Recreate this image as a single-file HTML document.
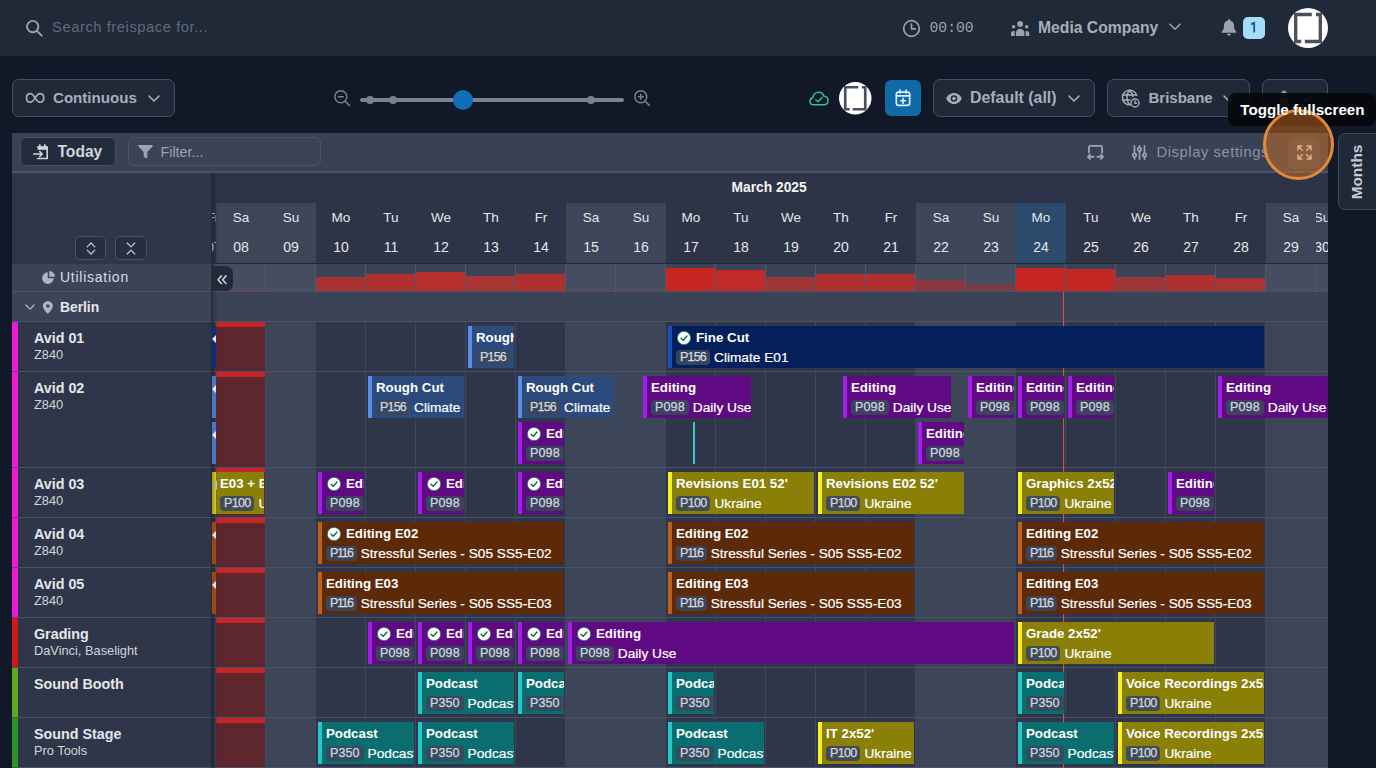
<!DOCTYPE html><html><head><meta charset="utf-8"><title>Schedule</title><style>
*{box-sizing:border-box;margin:0;padding:0}
html,body{width:1376px;height:768px;overflow:hidden;background:#111827}
body{font-family:"Liberation Sans",sans-serif;color:#fff;position:relative}
.abs{position:absolute}
.t{position:absolute;white-space:nowrap;line-height:1}
.b{font-weight:bold}
.btn{position:absolute;border:1px solid #465064;background:#1f2937;border-radius:7px}
svg{position:absolute;overflow:visible}
/* events */
.ev{position:absolute;height:42px;overflow:hidden;border-left:4px solid;white-space:nowrap}
.ev .l1{position:absolute;left:4px;top:4px;height:16px;font-weight:bold;font-size:13.3px;line-height:16px;color:#fff}
.ev .l2{position:absolute;left:4px;top:24px;height:16px;font-size:13.7px;line-height:16px;color:#fff;-webkit-text-stroke:.2px #fff}
.ev .cd{display:inline-block;vertical-align:top;height:15px;line-height:15px;margin-top:0px;padding:0 4px;border-radius:4px;background:rgba(60,72,92,.92);color:#d3d8e0;font-size:12.5px;margin-right:4px;-webkit-text-stroke:.25px #d3d8e0}
.ev .ck{display:inline-block;vertical-align:top;width:14px;height:14px;margin:1px 5px 0 1px;position:relative}
.navy{background:#04205c;border-color:#1553c0}
.steel{background:#2c4a7c;border-color:#5b8de6}
.purple{background:#5f0a82;border-color:#a31ee8}
.olive{background:#8a8008;border-color:#f5f020}
.brown{background:#5c2a08;border-color:#c0601a}
.teal{background:#0a6e70;border-color:#22c8c8}
.rn{position:absolute;left:34px;font-weight:bold;font-size:14.3px;color:#e5e7eb;white-space:nowrap;line-height:1}
.rs{position:absolute;left:34px;font-size:12.8px;color:#d1d5db;white-space:nowrap;line-height:1}
.dn{position:absolute;width:50px;text-align:center;font-size:13.5px;color:#e5e7eb;line-height:1;top:210px}
.dd{position:absolute;width:50px;text-align:center;font-size:14px;color:#e5e7eb;line-height:1;top:240px}
</style></head><body>
<div class="abs" style="left:0;top:0;width:1376px;height:56px;background:#1f2937"></div>
<svg style="left:24px;top:17px" width="22" height="22" viewBox="0 0 22 22" fill="none" stroke="#9ca3af" stroke-width="1.900" stroke-linecap="round"><circle cx="8.700" cy="9.600" r="5.700"/><path d="M12.900 13.800 L17.700 18.700"/></svg>
<div class="t" style="left:52px;top:20px;font-size:14.800px;letter-spacing:.530px;color:#5f6b7d">Search freispace for...</div>
<svg style="left:901.700px;top:18.700px" width="19" height="19" viewBox="0 0 19 19" fill="none" stroke="#9ca3af" stroke-width="1.700" stroke-linecap="round" stroke-linejoin="round"><circle cx="9.5" cy="9.5" r="7.8"/><path d="M9.5 5 V9.8 H13.4"/></svg>
<div class="t" style="left:929.5px;top:21.300px;font-family:'Liberation Mono',monospace;font-size:14.7px;color:#9ca3af">00:00</div>
<svg style="left:1011px;top:20.700px" width="18.300" height="15.100" viewBox="0 0 18.3 15.1" fill="#9ca3af"><circle cx="9.150" cy="3" r="2.900"/><circle cx="2.600" cy="5.700" r="1.800"/><circle cx="15.700" cy="5.700" r="1.800"/><path d="M4.900 15.100 V12.100 a4.250 4.250 0 0 1 8.500 0 V15.100 Z"/><path d="M0 15.100 V12.500 a2.500 2.500 0 0 1 2.500-2.500 h1.200 v5.100z"/><path d="M18.300 15.100 V12.500 a2.500 2.500 0 0 0-2.500-2.500 h-1.200 v5.100z"/></svg>
<div class="t b" style="left:1038px;top:19.5px;font-size:15.7px;color:#a7aebb">Media Company</div>
<svg style="left:1169px;top:23px" width="12" height="8" viewBox="0 0 12 8" fill="none" stroke="#9ca3af" stroke-width="1.6" stroke-linecap="round" stroke-linejoin="round"><path d="M1 1.2 L6 6.2 L11 1.200"/></svg>
<svg style="left:1221px;top:19px" width="16" height="18" viewBox="0 0 16 18" fill="#9ca3af"><path d="M8 0.300 c.7 0 1.200.5 1.200 1.100 c2.400.6 3.800 2.600 3.800 5.100 c0 3.300.8 4.700 2.300 6.200 c.4.400.1 1-.4 1 H1.100 c-.5 0-.8-.6-.4-1 C2.200 11.200 3 9.800 3 6.500 c0-2.500 1.400-4.500 3.800-5.100 C6.800.8 7.300.300 8 .300z"/><path d="M6 14.800 h4 c0 1.200-.9 2-2 2 s-2-.8-2-2z"/></svg>
<div class="abs" style="left:1242.5px;top:17px;width:22px;height:22px;border-radius:5px;background:#a5dcf8"></div>
<svg style="left:1250px;top:21px" width="7" height="13" viewBox="0 0 7 13" fill="none" stroke="#0b5c8c" stroke-width="1.800" stroke-linejoin="round"><path d="M1.300 3.600 L4.200 1.600 V11.600"/></svg>
<svg style="left:1288.0px;top:7.699999999999999px" width="40" height="40" viewBox="0 0 40 40"><circle cx="20" cy="20" r="20" fill="#fff"/><g fill="none" stroke="#4b5060" stroke-width="3.3"><path d="M23.800 6.500 H7.700 V33.500 H13.200"/><path d="M28 6.500 H32.300 V33.500 H16.800"/></g></svg>
<div class="btn" style="left:12px;top:79px;width:163px;height:38px"></div>
<svg style="left:24.800px;top:92px" width="20.300" height="11.800" viewBox="0 0 21 13" fill="none" stroke="#a7aebb" stroke-width="1.900"><path d="M10.500 6.500 C8.700 3.500 7.200 1.800 5.200 1.800 C2.600 1.800 1 3.900 1 6.500 S2.600 11.200 5.200 11.200 C7.200 11.200 8.700 9.500 10.500 6.500 C12.300 3.500 13.800 1.800 15.800 1.800 C18.400 1.800 20 3.900 20 6.500 S18.400 11.200 15.800 11.200 C13.800 11.200 12.300 9.500 10.500 6.500Z"/></svg>
<div class="t b" style="left:53px;top:89.5px;font-size:15.1px;color:#a7aebb">Continuous</div>
<svg style="left:148px;top:94.500px" width="12" height="8" viewBox="0 0 12 8" fill="none" stroke="#a7aebb" stroke-width="1.6" stroke-linecap="round" stroke-linejoin="round"><path d="M1 1 L6 6 L11 1"/></svg>
<svg style="left:333px;top:89px" width="18" height="18" viewBox="0 0 18 18" fill="none" stroke="#7a8290" stroke-width="1.5" stroke-linecap="round"><circle cx="7.800" cy="7.800" r="6"/><path d="M5.300 7.800 H10.300 M12.200 12.300 L16.300 16.400"/></svg>
<div class="abs" style="left:360px;top:98px;width:264px;height:4px;border-radius:2px;background:#7a8290"></div>
<div class="abs" style="left:365.7px;top:96px;width:8px;height:8px;border-radius:4px;background:#7a8290"></div>
<div class="abs" style="left:389px;top:96px;width:8px;height:8px;border-radius:4px;background:#7a8290"></div>
<div class="abs" style="left:586.8px;top:96px;width:8px;height:8px;border-radius:4px;background:#7a8290"></div>
<div class="abs" style="left:453px;top:90px;width:20px;height:20px;border-radius:10px;background:#0f6fb6"></div>
<svg style="left:633px;top:89px" width="18" height="18" viewBox="0 0 18 18" fill="none" stroke="#7a8290" stroke-width="1.5" stroke-linecap="round"><circle cx="7.800" cy="7.800" r="6"/><path d="M5.300 7.800 H10.300 M7.800 5.300 V10.300 M12.200 12.300 L16.300 16.400"/></svg>
<svg style="left:809px;top:90.5px" width="20" height="15" viewBox="0 0 20 15" fill="none" stroke="#34c58c" stroke-width="1.5" stroke-linecap="round" stroke-linejoin="round"><path d="M5 13.800 C2.600 13.800 1 12.200 1 10.200 C1 8.400 2.200 7 3.900 6.700 C4.100 3.700 6.400 1.200 9.600 1.200 C12.300 1.200 14.300 2.900 15 5.300 C17.300 5.500 19 7.200 19 9.500 C19 12 17.200 13.800 14.800 13.800 Z"/><path d="M6.800 8.700 L9 10.800 L13 6.600"/></svg>
<svg style="left:838.75px;top:81.75px" width="32.5" height="32.5" viewBox="0 0 40 40"><circle cx="20" cy="20" r="20" fill="#fff"/><g fill="none" stroke="#4b5060" stroke-width="3.3"><path d="M23.800 6.500 H7.700 V33.500 H13.200"/><path d="M28 6.500 H32.300 V33.500 H16.800"/></g></svg>
<div class="abs" style="left:885px;top:80px;width:36px;height:36px;border-radius:6px;background:#0f6aa6"></div>
<svg style="left:895px;top:89.200px" width="16" height="17.800" viewBox="0 0 18 20" fill="none" stroke="#d8f0ff" stroke-width="1.900" stroke-linecap="round" stroke-linejoin="round"><rect x="1.500" y="3.500" width="15" height="15" rx="2.500"/><path d="M1.500 7.800 H16.500 M5.500 1.200 V4.500 M12.500 1.200 V4.500 M9 10.500 V16 M6.300 13.200 H11.700"/></svg>
<div class="btn" style="left:933px;top:79px;width:162px;height:38px"></div>
<svg style="left:946px;top:91.5px" width="16" height="13" viewBox="0 0 16 13" ><path d="M8 1 C4.400 1 1.600 3.300 .3 6.500 C1.600 9.700 4.400 12 8 12 S14.400 9.700 15.700 6.500 C14.400 3.300 11.600 1 8 1 Z" fill="#a7aebb"/><circle cx="8" cy="6.500" r="3.300" fill="#1f2937"/><circle cx="8" cy="6.500" r="1.800" fill="#a7aebb"/></svg>
<div class="t b" style="left:970px;top:90px;font-size:15.9px;color:#a7aebb">Default (all)</div>
<svg style="left:1068px;top:94.500px" width="12" height="8" viewBox="0 0 12 8" fill="none" stroke="#a7aebb" stroke-width="1.6" stroke-linecap="round" stroke-linejoin="round"><path d="M1 1 L6 6 L11 1"/></svg>
<div class="btn" style="left:1107px;top:79px;width:143px;height:38px"></div>
<svg style="left:1121px;top:89px" width="19" height="19" viewBox="0 0 19 19" fill="none" stroke="#a7aebb" stroke-width="1.400" stroke-linecap="round"><path d="M9.500 15.800 A7.300 7.300 0 1 1 15.700 6.400"/><path d="M8.500 1.300 C5.200 4.500 5.200 11.500 8.200 15.500 M8.500 1.300 C10.500 3 11.500 5 11.800 7.500 M1.500 6 H15 M1.500 11 H9"/><circle cx="14" cy="14" r="4" /><path d="M14 12 V14.200 H15.600"/></svg>
<div class="t b" style="left:1148.5px;top:89.5px;font-size:15px;color:#a7aebb">Brisbane</div>
<svg style="left:1223px;top:94.500px" width="12" height="8" viewBox="0 0 12 8" fill="none" stroke="#a7aebb" stroke-width="1.6" stroke-linecap="round" stroke-linejoin="round"><path d="M1 1 L6 6 L11 1"/></svg>
<div class="btn" style="left:1262px;top:79px;width:66px;height:38px"></div>
<svg style="left:1276px;top:89px" width="16" height="18" viewBox="0 0 16 18" fill="#8d95a3"><circle cx="8" cy="4" r="2.600"/><path d="M3 17 v-4 c0-2.500 2-4.200 5-4.200 s5 1.700 5 4.200 v4 z"/></svg>
<svg style="left:1301px;top:94.500px" width="12" height="8" viewBox="0 0 12 8" fill="none" stroke="#a7aebb" stroke-width="1.6" stroke-linecap="round" stroke-linejoin="round"><path d="M1 1 L6 6 L11 1"/></svg>
<div class="abs" style="left:12px;top:133px;width:1316px;height:40px;background:#394254;border-bottom:2px solid #4a5467"></div>
<div class="abs" style="left:20px;top:137px;width:96px;height:29px;border-radius:6px;background:#232c3c;border:1px solid #465064"></div>
<svg style="left:33px;top:143.500px" width="16" height="16" viewBox="0 0 16 16" fill="none" stroke="#d1d5db" stroke-width="1.600" stroke-linecap="round" stroke-linejoin="round"><path d="M4.600 3 H14.200 V14.500 H4.600"/><path d="M4.600 2.600 H14.600 V5.800 H4.600Z" fill="#d1d5db" stroke="none"/><path d="M6.800 .8 V3 M11.800 .8 V3 M.8 10 H9 M6.700 7.500 L9.200 10 L6.700 12.500"/></svg>
<div class="t b" style="left:57.500px;top:144px;font-size:15.6px;color:#d1d5db">Today</div>
<div class="abs" style="left:127.500px;top:137px;width:193.500px;height:29px;border-radius:6px;background:#3b4456;border:1px solid #4b5568"></div>
<svg style="left:138px;top:145px" width="15" height="14" viewBox="0 0 15 14" fill="#9ca3af"><path d="M.8 0 H14.200 C14.900 0 15.200.8 14.700 1.300 L9.300 7 V12.500 C9.300 13.200 8.600 13.600 8 13.200 L6.200 11.900 C5.900 11.700 5.700 11.400 5.700 11 V7 L.3 1.300 C-.2.800.1 0 .8 0Z"/></svg>
<div class="t" style="left:160.500px;top:145px;font-size:14.3px;color:#9ca3af">Filter...</div>
<svg style="left:1086.500px;top:143.700px" width="17" height="17" viewBox="0 0 18 18" fill="none" stroke="#9ca3af" stroke-width="1.900" stroke-linecap="round" stroke-linejoin="round"><path d="M2 9 V3.500 C2 2.700 2.700 2 3.500 2 H14.500 C15.300 2 16 2.700 16 3.500 V9"/><path d="M1 13.500 H7 M3.200 11.300 L1 13.500 L3.200 15.700 M17 13.500 H11 M14.800 11.300 L17 13.500 L14.800 15.700"/></svg>
<svg style="left:1131.500px;top:144.500px" width="15" height="15" viewBox="0 0 15 15" fill="none" stroke="#9ca3af" stroke-width="1.700" stroke-linecap="round"><path d="M2.500 .9 V8 M2.500 12.200 V14.100 M7.500 .9 V2.200 M7.500 6.400 V14.100 M12.500 .9 V8 M12.500 12.200 V14.100"/><circle cx="2.500" cy="10.100" r="1.700"/><circle cx="7.500" cy="4.300" r="1.700"/><circle cx="12.500" cy="10.100" r="1.700"/></svg>
<div class="t" style="left:1156.500px;top:144.500px;font-size:14.800px;letter-spacing:.548px;color:#8b93a3">Display settings</div>
<div class="abs" style="left:212px;top:173px;width:1116px;height:91px;background:#2e3447"></div>
<div class="abs" style="left:212px;top:264px;width:1116px;height:504px;background:#2f3649"></div>
<div class="abs" style="left:212px;top:173px;width:1116px;height:595px;overflow:hidden">
<div class="abs" style="left:4px;top:30px;width:50px;height:60px;background:#3d4558;"></div>
<div class="abs" style="left:54px;top:30px;width:50px;height:60px;background:#3d4558;"></div>
<div class="abs" style="left:354px;top:30px;width:50px;height:60px;background:#3d4558;"></div>
<div class="abs" style="left:404px;top:30px;width:50px;height:60px;background:#3d4558;"></div>
<div class="abs" style="left:704px;top:30px;width:50px;height:60px;background:#3d4558;"></div>
<div class="abs" style="left:754px;top:30px;width:50px;height:60px;background:#3d4558;"></div>
<div class="abs" style="left:804px;top:30px;width:50px;height:60px;background:#2b4a6c;"></div>
<div class="abs" style="left:1054px;top:30px;width:50px;height:60px;background:#3d4558;"></div>
<div class="abs" style="left:1104px;top:30px;width:50px;height:60px;background:#3d4558;"></div>
<div class="abs" style="left:0px;top:91px;width:1116px;height:58px;background:#3b4356;"></div>
<div class="abs" style="left:4px;top:91px;width:50px;height:28px;background:#454d60;"></div>
<div class="abs" style="left:54px;top:91px;width:50px;height:28px;background:#454d60;"></div>
<div class="abs" style="left:354px;top:91px;width:50px;height:28px;background:#454d60;"></div>
<div class="abs" style="left:404px;top:91px;width:50px;height:28px;background:#454d60;"></div>
<div class="abs" style="left:704px;top:91px;width:50px;height:28px;background:#454d60;"></div>
<div class="abs" style="left:754px;top:91px;width:50px;height:28px;background:#454d60;"></div>
<div class="abs" style="left:1054px;top:91px;width:50px;height:28px;background:#454d60;"></div>
<div class="abs" style="left:1104px;top:91px;width:50px;height:28px;background:#454d60;"></div>
<div class="abs" style="left:4px;top:149px;width:50px;height:446px;background:#3d4558;"></div>
<div class="abs" style="left:54px;top:149px;width:50px;height:446px;background:#3d4558;"></div>
<div class="abs" style="left:354px;top:149px;width:50px;height:446px;background:#3d4558;"></div>
<div class="abs" style="left:404px;top:149px;width:50px;height:446px;background:#3d4558;"></div>
<div class="abs" style="left:704px;top:149px;width:50px;height:446px;background:#3d4558;"></div>
<div class="abs" style="left:754px;top:149px;width:50px;height:446px;background:#3d4558;"></div>
<div class="abs" style="left:1054px;top:149px;width:50px;height:446px;background:#3d4558;"></div>
<div class="abs" style="left:1104px;top:149px;width:50px;height:446px;background:#3d4558;"></div>
<div class="abs" style="left:0px;top:90px;width:1116px;height:1px;background:#222838;"></div>
<div class="abs" style="left:0px;top:118px;width:1116px;height:1px;background:#4a5366;"></div>
<div class="abs" style="left:0px;top:148px;width:1116px;height:1px;background:#4a5366;"></div>
<div class="abs" style="left:0px;top:198px;width:1116px;height:1px;background:#4a5366;"></div>
<div class="abs" style="left:0px;top:294px;width:1116px;height:1px;background:#4a5366;"></div>
<div class="abs" style="left:0px;top:344px;width:1116px;height:1px;background:#4a5366;"></div>
<div class="abs" style="left:0px;top:394px;width:1116px;height:1px;background:#4a5366;"></div>
<div class="abs" style="left:0px;top:444px;width:1116px;height:1px;background:#4a5366;"></div>
<div class="abs" style="left:0px;top:494px;width:1116px;height:1px;background:#4a5366;"></div>
<div class="abs" style="left:0px;top:544px;width:1116px;height:1px;background:#4a5366;"></div>
<div class="abs" style="left:0px;top:594px;width:1116px;height:1px;background:#4a5366;"></div>
<div class="abs" style="left:3px;top:91px;width:1px;height:28px;background:#50586a;"></div>
<div class="abs" style="left:3px;top:149px;width:1px;height:446px;background:#3f475a;"></div>
<div class="abs" style="left:53px;top:91px;width:1px;height:28px;background:#50586a;"></div>
<div class="abs" style="left:53px;top:149px;width:1px;height:446px;background:#3f475a;"></div>
<div class="abs" style="left:103px;top:91px;width:1px;height:28px;background:#50586a;"></div>
<div class="abs" style="left:103px;top:149px;width:1px;height:446px;background:#3f475a;"></div>
<div class="abs" style="left:153px;top:91px;width:1px;height:28px;background:#50586a;"></div>
<div class="abs" style="left:153px;top:149px;width:1px;height:446px;background:#3f475a;"></div>
<div class="abs" style="left:203px;top:91px;width:1px;height:28px;background:#50586a;"></div>
<div class="abs" style="left:203px;top:149px;width:1px;height:446px;background:#3f475a;"></div>
<div class="abs" style="left:253px;top:91px;width:1px;height:28px;background:#50586a;"></div>
<div class="abs" style="left:253px;top:149px;width:1px;height:446px;background:#3f475a;"></div>
<div class="abs" style="left:303px;top:91px;width:1px;height:28px;background:#50586a;"></div>
<div class="abs" style="left:303px;top:149px;width:1px;height:446px;background:#3f475a;"></div>
<div class="abs" style="left:353px;top:91px;width:1px;height:28px;background:#50586a;"></div>
<div class="abs" style="left:353px;top:149px;width:1px;height:446px;background:#3f475a;"></div>
<div class="abs" style="left:403px;top:91px;width:1px;height:28px;background:#50586a;"></div>
<div class="abs" style="left:403px;top:149px;width:1px;height:446px;background:#3f475a;"></div>
<div class="abs" style="left:453px;top:91px;width:1px;height:28px;background:#50586a;"></div>
<div class="abs" style="left:453px;top:149px;width:1px;height:446px;background:#3f475a;"></div>
<div class="abs" style="left:503px;top:91px;width:1px;height:28px;background:#50586a;"></div>
<div class="abs" style="left:503px;top:149px;width:1px;height:446px;background:#3f475a;"></div>
<div class="abs" style="left:553px;top:91px;width:1px;height:28px;background:#50586a;"></div>
<div class="abs" style="left:553px;top:149px;width:1px;height:446px;background:#3f475a;"></div>
<div class="abs" style="left:603px;top:91px;width:1px;height:28px;background:#50586a;"></div>
<div class="abs" style="left:603px;top:149px;width:1px;height:446px;background:#3f475a;"></div>
<div class="abs" style="left:653px;top:91px;width:1px;height:28px;background:#50586a;"></div>
<div class="abs" style="left:653px;top:149px;width:1px;height:446px;background:#3f475a;"></div>
<div class="abs" style="left:703px;top:91px;width:1px;height:28px;background:#50586a;"></div>
<div class="abs" style="left:703px;top:149px;width:1px;height:446px;background:#3f475a;"></div>
<div class="abs" style="left:753px;top:91px;width:1px;height:28px;background:#50586a;"></div>
<div class="abs" style="left:753px;top:149px;width:1px;height:446px;background:#3f475a;"></div>
<div class="abs" style="left:803px;top:91px;width:1px;height:28px;background:#50586a;"></div>
<div class="abs" style="left:803px;top:149px;width:1px;height:446px;background:#3f475a;"></div>
<div class="abs" style="left:853px;top:91px;width:1px;height:28px;background:#50586a;"></div>
<div class="abs" style="left:853px;top:149px;width:1px;height:446px;background:#3f475a;"></div>
<div class="abs" style="left:903px;top:91px;width:1px;height:28px;background:#50586a;"></div>
<div class="abs" style="left:903px;top:149px;width:1px;height:446px;background:#3f475a;"></div>
<div class="abs" style="left:953px;top:91px;width:1px;height:28px;background:#50586a;"></div>
<div class="abs" style="left:953px;top:149px;width:1px;height:446px;background:#3f475a;"></div>
<div class="abs" style="left:1003px;top:91px;width:1px;height:28px;background:#50586a;"></div>
<div class="abs" style="left:1003px;top:149px;width:1px;height:446px;background:#3f475a;"></div>
<div class="abs" style="left:1053px;top:91px;width:1px;height:28px;background:#50586a;"></div>
<div class="abs" style="left:1053px;top:149px;width:1px;height:446px;background:#3f475a;"></div>
<div class="abs" style="left:1103px;top:91px;width:1px;height:28px;background:#50586a;"></div>
<div class="abs" style="left:1103px;top:149px;width:1px;height:446px;background:#3f475a;"></div>
<div class="abs" style="left:4px;top:116.5px;width:49px;height:1.5px;background:#7a3a44;"></div>
<div class="abs" style="left:104px;top:103.5px;width:49px;height:14.5px;background:#a83234;"></div>
<div class="abs" style="left:154px;top:100.5px;width:49px;height:17.5px;background:#b03030;"></div>
<div class="abs" style="left:204px;top:98.5px;width:49px;height:19.5px;background:#b82e2c;"></div>
<div class="abs" style="left:254px;top:102.5px;width:49px;height:15.5px;background:#a83434;"></div>
<div class="abs" style="left:304px;top:101px;width:49px;height:17px;background:#b03030;"></div>
<div class="abs" style="left:354px;top:117px;width:49px;height:1px;background:#6a3e4a;"></div>
<div class="abs" style="left:404px;top:117px;width:49px;height:1px;background:#6a3e4a;"></div>
<div class="abs" style="left:454px;top:95px;width:49px;height:23px;background:#c82622;"></div>
<div class="abs" style="left:504px;top:97px;width:49px;height:21px;background:#c02a28;"></div>
<div class="abs" style="left:554px;top:104px;width:49px;height:14px;background:#a03436;"></div>
<div class="abs" style="left:604px;top:101px;width:49px;height:17px;background:#b03030;"></div>
<div class="abs" style="left:654px;top:101px;width:49px;height:17px;background:#b03030;"></div>
<div class="abs" style="left:704px;top:107px;width:49px;height:11px;background:#8a3840;"></div>
<div class="abs" style="left:754px;top:110.5px;width:49px;height:7.5px;background:#7a3a44;"></div>
<div class="abs" style="left:804px;top:95px;width:49px;height:23px;background:#c82622;"></div>
<div class="abs" style="left:854px;top:96px;width:49px;height:22px;background:#c42824;"></div>
<div class="abs" style="left:904px;top:103.5px;width:49px;height:14.5px;background:#a03436;"></div>
<div class="abs" style="left:954px;top:101.5px;width:49px;height:16.5px;background:#b03030;"></div>
<div class="abs" style="left:1004px;top:105px;width:49px;height:13px;background:#a83436;"></div>
<div class="abs" style="left:4px;top:149px;width:49px;height:49px;background:#5e272d;"></div>
<div class="abs" style="left:4px;top:149px;width:49px;height:4.5px;background:#c4262a;"></div>
<div class="abs" style="left:4px;top:199px;width:49px;height:95px;background:#5e272d;"></div>
<div class="abs" style="left:4px;top:199px;width:49px;height:4.5px;background:#c4262a;"></div>
<div class="abs" style="left:4px;top:295px;width:49px;height:49px;background:#5e272d;"></div>
<div class="abs" style="left:4px;top:295px;width:49px;height:4.5px;background:#c4262a;"></div>
<div class="abs" style="left:4px;top:345px;width:49px;height:49px;background:#5e272d;"></div>
<div class="abs" style="left:4px;top:345px;width:49px;height:4.5px;background:#c4262a;"></div>
<div class="abs" style="left:4px;top:395px;width:49px;height:49px;background:#5e272d;"></div>
<div class="abs" style="left:4px;top:395px;width:49px;height:4.5px;background:#c4262a;"></div>
<div class="abs" style="left:4px;top:445px;width:49px;height:49px;background:#5e272d;"></div>
<div class="abs" style="left:4px;top:445px;width:49px;height:4.5px;background:#c4262a;"></div>
<div class="abs" style="left:4px;top:495px;width:49px;height:49px;background:#5e272d;"></div>
<div class="abs" style="left:4px;top:495px;width:49px;height:4.5px;background:#c4262a;"></div>
<div class="abs" style="left:4px;top:545px;width:49px;height:49px;background:#5e272d;"></div>
<div class="abs" style="left:4px;top:545px;width:49px;height:4.5px;background:#c4262a;"></div>
<div class="dn" style="left:4px;top:37.5px">Sa</div><div class="dd" style="left:4px;top:66.5px">08</div>
<div class="dn" style="left:54px;top:37.5px">Su</div><div class="dd" style="left:54px;top:66.5px">09</div>
<div class="dn" style="left:104px;top:37.5px">Mo</div><div class="dd" style="left:104px;top:66.5px">10</div>
<div class="dn" style="left:154px;top:37.5px">Tu</div><div class="dd" style="left:154px;top:66.5px">11</div>
<div class="dn" style="left:204px;top:37.5px">We</div><div class="dd" style="left:204px;top:66.5px">12</div>
<div class="dn" style="left:254px;top:37.5px">Th</div><div class="dd" style="left:254px;top:66.5px">13</div>
<div class="dn" style="left:304px;top:37.5px">Fr</div><div class="dd" style="left:304px;top:66.5px">14</div>
<div class="dn" style="left:354px;top:37.5px">Sa</div><div class="dd" style="left:354px;top:66.5px">15</div>
<div class="dn" style="left:404px;top:37.5px">Su</div><div class="dd" style="left:404px;top:66.5px">16</div>
<div class="dn" style="left:454px;top:37.5px">Mo</div><div class="dd" style="left:454px;top:66.5px">17</div>
<div class="dn" style="left:504px;top:37.5px">Tu</div><div class="dd" style="left:504px;top:66.5px">18</div>
<div class="dn" style="left:554px;top:37.5px">We</div><div class="dd" style="left:554px;top:66.5px">19</div>
<div class="dn" style="left:604px;top:37.5px">Th</div><div class="dd" style="left:604px;top:66.5px">20</div>
<div class="dn" style="left:654px;top:37.5px">Fr</div><div class="dd" style="left:654px;top:66.5px">21</div>
<div class="dn" style="left:704px;top:37.5px">Sa</div><div class="dd" style="left:704px;top:66.5px">22</div>
<div class="dn" style="left:754px;top:37.5px">Su</div><div class="dd" style="left:754px;top:66.5px">23</div>
<div class="dn" style="left:804px;top:37.5px">Mo</div><div class="dd" style="left:804px;top:66.5px">24</div>
<div class="dn" style="left:854px;top:37.5px">Tu</div><div class="dd" style="left:854px;top:66.5px">25</div>
<div class="dn" style="left:904px;top:37.5px">We</div><div class="dd" style="left:904px;top:66.5px">26</div>
<div class="dn" style="left:954px;top:37.5px">Th</div><div class="dd" style="left:954px;top:66.5px">27</div>
<div class="dn" style="left:1004px;top:37.5px">Fr</div><div class="dd" style="left:1004px;top:66.5px">28</div>
<div class="dn" style="left:1054px;top:37.5px">Sa</div><div class="dd" style="left:1054px;top:66.5px">29</div>
<div class="abs" style="left:0px;top:30px;width:4px;height:60px;overflow:hidden"><div class="dn" style="left:-24px;top:7.5px">Fr</div><div class="dd" style="left:-23px;top:36.5px">07</div></div>
<div class="abs" style="left:1104px;top:30px;width:12px;height:60px;overflow:hidden"><div class="dn" style="left:-19px;top:7.5px">Su</div><div class="dd" style="left:-19px;top:36.5px">30</div></div>
<div class="t b" style="left:519.5px;top:7.5px;font-size:13.800px;color:#f3f4f6">March 2025</div>
<div class="abs" style="left:851px;top:119px;width:1px;height:476px;background:#d9513a;"></div>
<div class="ev steel" style="left:256px;top:153px;width:46px"><div class="l1">Rough Cut</div><div class="l2"><span class="cd" style="letter-spacing:-0.8px">P156</span>Climate E01</div></div>
<div class="ev navy" style="left:456px;top:153px;width:596px"><div class="l1"><span class="ck"><svg style="left:0;top:0" width="14" height="14" viewBox="0 0 14 14"><circle cx="7" cy="7" r="6.600" fill="#fff" stroke="#1f8a6a" stroke-width=".8"/><path d="M4 7.300 L6.200 9.400 L10 5" fill="none" stroke="#0c5a46" stroke-width="1.300" stroke-linecap="round" stroke-linejoin="round"/></svg></span>Fine Cut</div><div class="l2"><span class="cd" style="letter-spacing:-0.8px">P156</span>Climate E01</div></div>
<div class="ev steel" style="left:156px;top:203px;width:96px"><div class="l1">Rough Cut</div><div class="l2"><span class="cd" style="letter-spacing:-0.8px">P156</span>Climate E01</div></div>
<div class="ev steel" style="left:306px;top:203px;width:96px"><div class="l1">Rough Cut</div><div class="l2"><span class="cd" style="letter-spacing:-0.8px">P156</span>Climate E01</div></div>
<div class="ev purple" style="left:431px;top:203px;width:108px"><div class="l1">Editing</div><div class="l2"><span class="cd" style="letter-spacing:0.15px">P098</span>Daily Use</div></div>
<div class="ev purple" style="left:631px;top:203px;width:108px"><div class="l1">Editing</div><div class="l2"><span class="cd" style="letter-spacing:0.15px">P098</span>Daily Use</div></div>
<div class="ev purple" style="left:756px;top:203px;width:46px"><div class="l1">Editing</div><div class="l2"><span class="cd" style="letter-spacing:0.15px">P098</span>Daily Use</div></div>
<div class="ev purple" style="left:806px;top:203px;width:46px"><div class="l1">Editing</div><div class="l2"><span class="cd" style="letter-spacing:0.15px">P098</span>Daily Use</div></div>
<div class="ev purple" style="left:856px;top:203px;width:46px"><div class="l1">Editing</div><div class="l2"><span class="cd" style="letter-spacing:0.15px">P098</span>Daily Use</div></div>
<div class="ev purple" style="left:1006px;top:203px;width:122px"><div class="l1">Editing</div><div class="l2"><span class="cd" style="letter-spacing:0.15px">P098</span>Daily Use</div></div>
<div class="ev purple" style="left:306px;top:249px;width:46px"><div class="l1"><span class="ck"><svg style="left:0;top:0" width="14" height="14" viewBox="0 0 14 14"><circle cx="7" cy="7" r="6.600" fill="#fff" stroke="#1f8a6a" stroke-width=".8"/><path d="M4 7.300 L6.200 9.400 L10 5" fill="none" stroke="#0c5a46" stroke-width="1.300" stroke-linecap="round" stroke-linejoin="round"/></svg></span>Editing</div><div class="l2"><span class="cd" style="letter-spacing:0.15px">P098</span>Daily Use</div></div>
<div class="ev purple" style="left:706px;top:249px;width:46px"><div class="l1">Editing</div><div class="l2"><span class="cd" style="letter-spacing:0.15px">P098</span>Daily Use</div></div>
<div class="abs" style="left:481px;top:249px;width:2px;height:42px;background:#3cc4d4;"></div>
<div class="ev olive" style="left:0px;top:299px;width:52px"><div class="l1" style="left:4px">E03 + E04</div><div class="l2" style="left:4px"><span class="cd" style="letter-spacing:-0.7px">P100</span>Ukraine</div></div>
<svg style="left:0px;top:307px" width="5" height="10" viewBox="0 0 5 10"><path d="M5 0 L0 5 L5 10Z" fill="#d8d4a0"/></svg>
<div class="ev purple" style="left:106px;top:299px;width:46px"><div class="l1"><span class="ck"><svg style="left:0;top:0" width="14" height="14" viewBox="0 0 14 14"><circle cx="7" cy="7" r="6.600" fill="#fff" stroke="#1f8a6a" stroke-width=".8"/><path d="M4 7.300 L6.200 9.400 L10 5" fill="none" stroke="#0c5a46" stroke-width="1.300" stroke-linecap="round" stroke-linejoin="round"/></svg></span>Editing</div><div class="l2"><span class="cd" style="letter-spacing:0.15px">P098</span>Daily Use</div></div>
<div class="ev purple" style="left:206px;top:299px;width:46px"><div class="l1"><span class="ck"><svg style="left:0;top:0" width="14" height="14" viewBox="0 0 14 14"><circle cx="7" cy="7" r="6.600" fill="#fff" stroke="#1f8a6a" stroke-width=".8"/><path d="M4 7.300 L6.200 9.400 L10 5" fill="none" stroke="#0c5a46" stroke-width="1.300" stroke-linecap="round" stroke-linejoin="round"/></svg></span>Editing</div><div class="l2"><span class="cd" style="letter-spacing:0.15px">P098</span>Daily Use</div></div>
<div class="ev purple" style="left:306px;top:299px;width:46px"><div class="l1"><span class="ck"><svg style="left:0;top:0" width="14" height="14" viewBox="0 0 14 14"><circle cx="7" cy="7" r="6.600" fill="#fff" stroke="#1f8a6a" stroke-width=".8"/><path d="M4 7.300 L6.200 9.400 L10 5" fill="none" stroke="#0c5a46" stroke-width="1.300" stroke-linecap="round" stroke-linejoin="round"/></svg></span>Editing</div><div class="l2"><span class="cd" style="letter-spacing:0.15px">P098</span>Daily Use</div></div>
<div class="ev olive" style="left:456px;top:299px;width:146px"><div class="l1">Revisions E01 52'</div><div class="l2"><span class="cd" style="letter-spacing:-0.7px">P100</span>Ukraine</div></div>
<div class="ev olive" style="left:606px;top:299px;width:146px"><div class="l1">Revisions E02 52'</div><div class="l2"><span class="cd" style="letter-spacing:-0.7px">P100</span>Ukraine</div></div>
<div class="ev olive" style="left:806px;top:299px;width:96px"><div class="l1">Graphics 2x52'</div><div class="l2"><span class="cd" style="letter-spacing:-0.7px">P100</span>Ukraine</div></div>
<div class="ev purple" style="left:956px;top:299px;width:46px"><div class="l1">Editing</div><div class="l2"><span class="cd" style="letter-spacing:0.15px">P098</span>Daily Use</div></div>
<div class="ev brown" style="left:106px;top:349px;width:246px"><div class="l1"><span class="ck"><svg style="left:0;top:0" width="14" height="14" viewBox="0 0 14 14"><circle cx="7" cy="7" r="6.600" fill="#fff" stroke="#1f8a6a" stroke-width=".8"/><path d="M4 7.300 L6.200 9.400 L10 5" fill="none" stroke="#0c5a46" stroke-width="1.300" stroke-linecap="round" stroke-linejoin="round"/></svg></span>Editing E02</div><div class="l2"><span class="cd" style="letter-spacing:-1.4px">P116</span>Stressful Series - S05 SS5-E02</div></div>
<div class="ev brown" style="left:456px;top:349px;width:246px"><div class="l1">Editing E02</div><div class="l2"><span class="cd" style="letter-spacing:-1.4px">P116</span>Stressful Series - S05 SS5-E02</div></div>
<div class="ev brown" style="left:806px;top:349px;width:246px"><div class="l1">Editing E02</div><div class="l2"><span class="cd" style="letter-spacing:-1.4px">P116</span>Stressful Series - S05 SS5-E02</div></div>
<div class="ev brown" style="left:106px;top:399px;width:246px"><div class="l1">Editing E03</div><div class="l2"><span class="cd" style="letter-spacing:-1.4px">P116</span>Stressful Series - S05 SS5-E03</div></div>
<div class="ev brown" style="left:456px;top:399px;width:246px"><div class="l1">Editing E03</div><div class="l2"><span class="cd" style="letter-spacing:-1.4px">P116</span>Stressful Series - S05 SS5-E03</div></div>
<div class="ev brown" style="left:806px;top:399px;width:246px"><div class="l1">Editing E03</div><div class="l2"><span class="cd" style="letter-spacing:-1.4px">P116</span>Stressful Series - S05 SS5-E03</div></div>
<div class="ev purple" style="left:156px;top:449px;width:46px"><div class="l1"><span class="ck"><svg style="left:0;top:0" width="14" height="14" viewBox="0 0 14 14"><circle cx="7" cy="7" r="6.600" fill="#fff" stroke="#1f8a6a" stroke-width=".8"/><path d="M4 7.300 L6.200 9.400 L10 5" fill="none" stroke="#0c5a46" stroke-width="1.300" stroke-linecap="round" stroke-linejoin="round"/></svg></span>Editing</div><div class="l2"><span class="cd" style="letter-spacing:0.15px">P098</span>Daily Use</div></div>
<div class="ev purple" style="left:206px;top:449px;width:46px"><div class="l1"><span class="ck"><svg style="left:0;top:0" width="14" height="14" viewBox="0 0 14 14"><circle cx="7" cy="7" r="6.600" fill="#fff" stroke="#1f8a6a" stroke-width=".8"/><path d="M4 7.300 L6.200 9.400 L10 5" fill="none" stroke="#0c5a46" stroke-width="1.300" stroke-linecap="round" stroke-linejoin="round"/></svg></span>Editing</div><div class="l2"><span class="cd" style="letter-spacing:0.15px">P098</span>Daily Use</div></div>
<div class="ev purple" style="left:256px;top:449px;width:46px"><div class="l1"><span class="ck"><svg style="left:0;top:0" width="14" height="14" viewBox="0 0 14 14"><circle cx="7" cy="7" r="6.600" fill="#fff" stroke="#1f8a6a" stroke-width=".8"/><path d="M4 7.300 L6.200 9.400 L10 5" fill="none" stroke="#0c5a46" stroke-width="1.300" stroke-linecap="round" stroke-linejoin="round"/></svg></span>Editing</div><div class="l2"><span class="cd" style="letter-spacing:0.15px">P098</span>Daily Use</div></div>
<div class="ev purple" style="left:306px;top:449px;width:46px"><div class="l1"><span class="ck"><svg style="left:0;top:0" width="14" height="14" viewBox="0 0 14 14"><circle cx="7" cy="7" r="6.600" fill="#fff" stroke="#1f8a6a" stroke-width=".8"/><path d="M4 7.300 L6.200 9.400 L10 5" fill="none" stroke="#0c5a46" stroke-width="1.300" stroke-linecap="round" stroke-linejoin="round"/></svg></span>Editing</div><div class="l2"><span class="cd" style="letter-spacing:0.15px">P098</span>Daily Use</div></div>
<div class="ev purple" style="left:356px;top:449px;width:446px"><div class="l1"><span class="ck"><svg style="left:0;top:0" width="14" height="14" viewBox="0 0 14 14"><circle cx="7" cy="7" r="6.600" fill="#fff" stroke="#1f8a6a" stroke-width=".8"/><path d="M4 7.300 L6.200 9.400 L10 5" fill="none" stroke="#0c5a46" stroke-width="1.300" stroke-linecap="round" stroke-linejoin="round"/></svg></span>Editing</div><div class="l2"><span class="cd" style="letter-spacing:0.15px">P098</span>Daily Use</div></div>
<div class="ev olive" style="left:806px;top:449px;width:196px"><div class="l1">Grade 2x52'</div><div class="l2"><span class="cd" style="letter-spacing:-0.7px">P100</span>Ukraine</div></div>
<div class="ev teal" style="left:206px;top:499px;width:96px"><div class="l1">Podcast</div><div class="l2"><span class="cd" style="letter-spacing:0.1px">P350</span>Podcast</div></div>
<div class="ev teal" style="left:306px;top:499px;width:46px"><div class="l1">Podcast</div><div class="l2"><span class="cd" style="letter-spacing:0.1px">P350</span>Podcast</div></div>
<div class="ev teal" style="left:456px;top:499px;width:46px"><div class="l1">Podcast</div><div class="l2"><span class="cd" style="letter-spacing:0.1px">P350</span>Podcast</div></div>
<div class="ev teal" style="left:806px;top:499px;width:46px"><div class="l1">Podcast</div><div class="l2"><span class="cd" style="letter-spacing:0.1px">P350</span>Podcast</div></div>
<div class="ev olive" style="left:906px;top:499px;width:146px"><div class="l1">Voice Recordings 2x52'</div><div class="l2"><span class="cd" style="letter-spacing:-0.7px">P100</span>Ukraine</div></div>
<div class="ev teal" style="left:106px;top:549px;width:96px"><div class="l1">Podcast</div><div class="l2"><span class="cd" style="letter-spacing:0.1px">P350</span>Podcast</div></div>
<div class="ev teal" style="left:206px;top:549px;width:96px"><div class="l1">Podcast</div><div class="l2"><span class="cd" style="letter-spacing:0.1px">P350</span>Podcast</div></div>
<div class="ev teal" style="left:456px;top:549px;width:96px"><div class="l1">Podcast</div><div class="l2"><span class="cd" style="letter-spacing:0.1px">P350</span>Podcast</div></div>
<div class="ev olive" style="left:606px;top:549px;width:96px"><div class="l1">IT 2x52'</div><div class="l2"><span class="cd" style="letter-spacing:-0.7px">P100</span>Ukraine</div></div>
<div class="ev teal" style="left:806px;top:549px;width:96px"><div class="l1">Podcast</div><div class="l2"><span class="cd" style="letter-spacing:0.1px">P350</span>Podcast</div></div>
<div class="ev olive" style="left:906px;top:549px;width:146px"><div class="l1">Voice Recordings 2x52'</div><div class="l2"><span class="cd" style="letter-spacing:-0.7px">P100</span>Ukraine</div></div>
</div>
<div class="abs" style="left:212px;top:173px;width:6px;height:595px;background:linear-gradient(90deg,rgba(20,24,36,.40),rgba(20,24,36,0))"></div>
<div class="abs" style="left:212px;top:326px;width:4px;height:42px;background:#0a2f80"></div>
<svg style="left:212px;top:335px" width="4" height="8" viewBox="0 0 4 8"><path d="M4 0 L0 4 L4 8Z" fill="#e5e7eb"/></svg>
<div class="abs" style="left:212px;top:376px;width:4px;height:42px;background:#4a78c8"></div>
<svg style="left:212px;top:385px" width="4" height="8" viewBox="0 0 4 8"><path d="M4 0 L0 4 L4 8Z" fill="#e5e7eb"/></svg>
<div class="abs" style="left:212px;top:422px;width:4px;height:42px;background:#4a78c8"></div>
<svg style="left:212px;top:431px" width="4" height="8" viewBox="0 0 4 8"><path d="M4 0 L0 4 L4 8Z" fill="#e5e7eb"/></svg>
<div class="abs" style="left:212px;top:522px;width:4px;height:42px;background:#9a4a12"></div>
<svg style="left:212px;top:531px" width="4" height="8" viewBox="0 0 4 8"><path d="M4 0 L0 4 L4 8Z" fill="#e5e7eb"/></svg>
<div class="abs" style="left:212px;top:572px;width:4px;height:42px;background:#9a4a12"></div>
<svg style="left:212px;top:581px" width="4" height="8" viewBox="0 0 4 8"><path d="M4 0 L0 4 L4 8Z" fill="#e5e7eb"/></svg>
<div class="abs" style="left:12px;top:173px;width:200px;height:91px;background:#2f3649"></div>
<div class="abs" style="left:12px;top:264px;width:200px;height:58px;background:#3b4356"></div>
<div class="abs" style="left:12px;top:322px;width:200px;height:446px;background:#2f3649"></div>
<div class="abs" style="left:12px;top:291px;width:200px;height:1px;background:#4a5366"></div>
<div class="abs" style="left:12px;top:321px;width:200px;height:1px;background:#4a5366"></div>
<div class="abs" style="left:12px;top:371px;width:200px;height:1px;background:#4a5366"></div>
<div class="abs" style="left:12px;top:467px;width:200px;height:1px;background:#4a5366"></div>
<div class="abs" style="left:12px;top:517px;width:200px;height:1px;background:#4a5366"></div>
<div class="abs" style="left:12px;top:567px;width:200px;height:1px;background:#4a5366"></div>
<div class="abs" style="left:12px;top:617px;width:200px;height:1px;background:#4a5366"></div>
<div class="abs" style="left:12px;top:667px;width:200px;height:1px;background:#4a5366"></div>
<div class="abs" style="left:12px;top:717px;width:200px;height:1px;background:#4a5366"></div>
<div class="abs" style="left:12px;top:767px;width:200px;height:1px;background:#4a5366"></div>
<div class="abs" style="left:211px;top:173px;width:1px;height:595px;background:#252b3a"></div>
<div class="abs" style="left:12px;top:322px;width:6px;height:49px;background:#ee18d6"></div>
<div class="abs" style="left:12px;top:372px;width:6px;height:95px;background:#ee18d6"></div>
<div class="abs" style="left:12px;top:468px;width:6px;height:49px;background:#ee18d6"></div>
<div class="abs" style="left:12px;top:518px;width:6px;height:49px;background:#ee18d6"></div>
<div class="abs" style="left:12px;top:568px;width:6px;height:49px;background:#ee18d6"></div>
<div class="abs" style="left:12px;top:618px;width:6px;height:49px;background:#d01818"></div>
<div class="abs" style="left:12px;top:668px;width:6px;height:49px;background:#5aaa1c"></div>
<div class="abs" style="left:12px;top:718px;width:6px;height:49px;background:#2a961e"></div>
<div class="abs" style="left:74.5px;top:236px;width:31.500px;height:23.500px;border-radius:5px;background:#262f40;border:1px solid #475064"></div>
<div class="abs" style="left:115px;top:236px;width:31.500px;height:23.500px;border-radius:5px;background:#262f40;border:1px solid #475064"></div>
<svg style="left:85.500px;top:241.500px" width="10" height="13" viewBox="0 0 10 13" fill="none" stroke="#c5cad3" stroke-width="1.200" stroke-linecap="round" stroke-linejoin="round"><path d="M1.200 4.800 L5 1 L8.800 4.800 M1.200 8.200 L5 12 L8.800 8.200"/></svg>
<svg style="left:126px;top:241.500px" width="10" height="13" viewBox="0 0 10 13" fill="none" stroke="#c5cad3" stroke-width="1.200" stroke-linecap="round" stroke-linejoin="round"><path d="M1.200 1 L5 4.800 L8.800 1 M1.200 12 L5 8.200 L8.800 12"/></svg>
<svg style="left:41.500px;top:270.800px" width="13" height="13" viewBox="0 0 14 14" fill="#aeb4c0"><path d="M6.200 1.300 A6.300 6.300 0 1 0 12.700 7.800 H6.200 Z"/><path d="M7.800 0 A6.300 6.300 0 0 1 14 6.200 H7.800 Z"/></svg>
<div class="t" style="left:60px;top:270.300px;font-size:14px;letter-spacing:.750px;color:#d7dbe2">Utilisation</div>
<svg style="left:25px;top:304px" width="10" height="6.400" viewBox="0 0 11 7" fill="none" stroke="#aeb4c0" stroke-width="1.500" stroke-linecap="round" stroke-linejoin="round"><path d="M1 1 L5.500 5.600 L10 1"/></svg>
<svg style="left:42.200px;top:301px" width="11.700" height="13.200" viewBox="0 0 12 15" fill="#aeb4c0"><path d="M6 .3 C2.800.3.3 2.700.3 5.800 C.3 9.500 6 14.700 6 14.700 S11.700 9.500 11.700 5.800 C11.700 2.700 9.200.3 6 .3 Z M6 3.800 A2 2 0 1 1 6 7.800 A2 2 0 1 1 6 3.800Z" fill-rule="evenodd"/></svg>
<div class="t b" style="left:60px;top:300.500px;font-size:13.800px;color:#e5e7eb">Berlin</div>
<div class="rn" style="top:331px">Avid 01</div>
<div class="rs" style="top:348.5px">Z840</div>
<div class="rn" style="top:381px">Avid 02</div>
<div class="rs" style="top:398.5px">Z840</div>
<div class="rn" style="top:477px">Avid 03</div>
<div class="rs" style="top:494.5px">Z840</div>
<div class="rn" style="top:527px">Avid 04</div>
<div class="rs" style="top:544.5px">Z840</div>
<div class="rn" style="top:577px">Avid 05</div>
<div class="rs" style="top:594.5px">Z840</div>
<div class="rn" style="top:627px">Grading</div>
<div class="rs" style="top:644.5px">DaVinci, Baselight</div>
<div class="rn" style="top:677px">Sound Booth</div>
<div class="rn" style="top:727px">Sound Stage</div>
<div class="rs" style="top:744.5px">Pro Tools</div>
<div class="abs" style="left:212px;top:266px;width:21px;height:25px;border-radius:0 7px 7px 0;background:#222a3a"></div>
<svg style="left:217px;top:274.800px" width="10" height="9.400" viewBox="0 0 10 9.400" fill="none" stroke="#c5cad3" stroke-width="1.700" stroke-linecap="round" stroke-linejoin="round"><path d="M4.400 .9 L1 4.700 L4.400 8.500 M9 .9 L5.600 4.700 L9 8.500"/></svg>
<div class="abs" style="left:1338px;top:133px;width:44px;height:77px;border-radius:7px 0 0 7px;background:#1f2937;border:1px solid #3f495b"></div>
<div class="t b" style="left:1357px;top:171.500px;font-size:15.400px;color:#c5cad3;transform:translate(-50%,-50%) rotate(-90deg)">Months</div>
<div class="abs" style="left:1288px;top:136.500px;width:32px;height:32px;border-radius:7px;background:#444c5e"></div>
<svg style="left:1296.500px;top:145px" width="15" height="15" viewBox="0 0 15 15" fill="none" stroke="#e5e7eb" stroke-width="1.400" stroke-linecap="round" stroke-linejoin="round"><path d="M1 5 V1 H5 M1 1 L5.200 5.200 M10 1 H14 V5 M14 1 L9.800 5.200 M1 10 V14 H5 M1 14 L5.200 9.800 M14 10 V14 H10 M14 14 L9.800 9.800"/></svg>
<div class="abs" style="left:1228px;top:92.500px;width:148px;height:33.500px;border-radius:8px;background:rgba(5,7,12,.93)"></div>
<div class="abs" style="left:1262.800px;top:109px;width:71px;height:71px;border-radius:36px;background:rgba(224,118,29,.45);border:3.600px solid #e08a3a"></div>
<div class="t b" style="left:1240.300px;top:101.500px;font-size:15.150px;color:#fff">Toggle fullscreen</div>
</body></html>
